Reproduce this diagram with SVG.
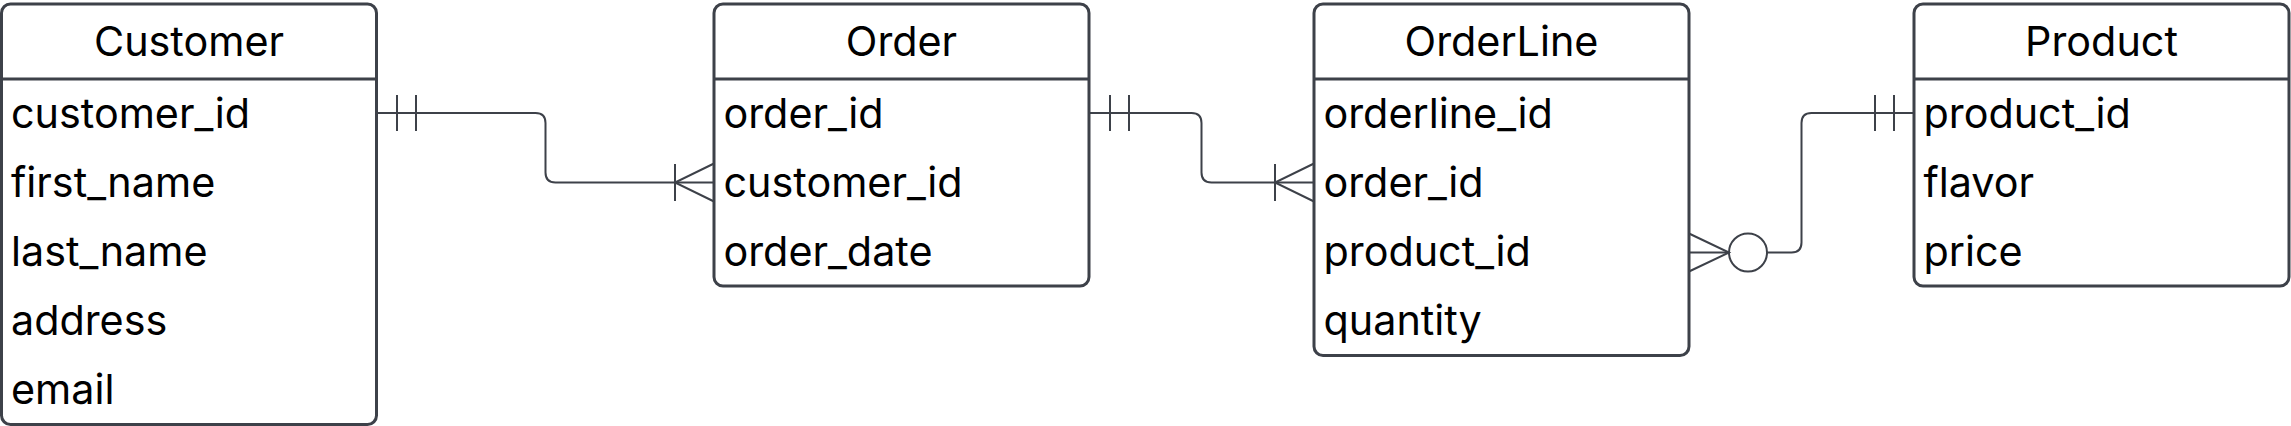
<svg xmlns="http://www.w3.org/2000/svg" width="2291" height="426" viewBox="0 0 2291 426">
<style>
.box{fill:#ffffff;stroke:#3d4149;stroke-width:3}
.div{stroke:#3d4149;stroke-width:3}
.t{font-family:Inter,"Noto Sans","Liberation Sans",sans-serif;font-size:41.3px;fill:#000000}
.h{text-anchor:middle}
.c{fill:none;stroke:#3d4149;stroke-width:2}
</style>
<rect width="2291" height="426" fill="#ffffff"/>
<g id="connectors">
  <path class="c" d="M376.5,113 H535.5 Q545.5,113 545.5,123 V172.5 Q545.5,182.5 555.5,182.5 H714"/>
  <path class="c" d="M397,95 V131 M416,95 V131"/>
  <path class="c" d="M675,164 V201 M714,163.5 L675,182.5 L714,201.5"/>
  <path class="c" d="M1089,113 H1191.5 Q1201.5,113 1201.5,123 V172.5 Q1201.5,182.5 1211.5,182.5 H1314"/>
  <path class="c" d="M1110,95 V131 M1129,95 V131"/>
  <path class="c" d="M1275,164 V201 M1314,163.5 L1275,182.5 L1314,201.5"/>
  <path class="c" d="M1689,252.5 H1729 M1767,252.5 H1791.5 Q1801.5,252.5 1801.5,242.5 V123 Q1801.5,113 1811.5,113 H1914"/>
  <path class="c" d="M1689,233.5 L1729,252.5 L1689,271.5"/>
  <circle class="c" cx="1748" cy="252.5" r="19"/>
  <path class="c" d="M1875,95 V131 M1894,95 V131"/>
</g>
<g id="Customer">
  <rect class="box" x="1.5" y="4" width="375" height="420.5" rx="9"/>
  <line class="div" x1="1.5" y1="79" x2="376.5" y2="79"/>
  <text class="t h" x="189" y="56">Customer</text>
  <text class="t" x="11" y="127.5">customer_id</text>
  <text class="t" x="11" y="196.5">first_name</text>
  <text class="t" x="11" y="265.5">last_name</text>
  <text class="t" x="11" y="334.5">address</text>
  <text class="t" x="11" y="403.5">email</text>
</g>
<g id="Order">
  <rect class="box" x="714" y="4" width="375" height="282" rx="9"/>
  <line class="div" x1="714" y1="79" x2="1089" y2="79"/>
  <text class="t h" x="901.5" y="56">Order</text>
  <text class="t" x="723.5" y="127.5">order_id</text>
  <text class="t" x="723.5" y="196.5">customer_id</text>
  <text class="t" x="723.5" y="265.5">order_date</text>
</g>
<g id="OrderLine">
  <rect class="box" x="1314" y="4" width="375" height="351.5" rx="9"/>
  <line class="div" x1="1314" y1="79" x2="1689" y2="79"/>
  <text class="t h" x="1501.5" y="56">OrderLine</text>
  <text class="t" x="1323.5" y="127.5">orderline_id</text>
  <text class="t" x="1323.5" y="196.5">order_id</text>
  <text class="t" x="1323.5" y="265.5">product_id</text>
  <text class="t" x="1323.5" y="334.5">quantity</text>
</g>
<g id="Product">
  <rect class="box" x="1914" y="4" width="375" height="282" rx="9"/>
  <line class="div" x1="1914" y1="79" x2="2289" y2="79"/>
  <text class="t h" x="2101.5" y="56">Product</text>
  <text class="t" x="1923.5" y="127.5">product_id</text>
  <text class="t" x="1923.5" y="196.5">flavor</text>
  <text class="t" x="1923.5" y="265.5">price</text>
</g>
</svg>
